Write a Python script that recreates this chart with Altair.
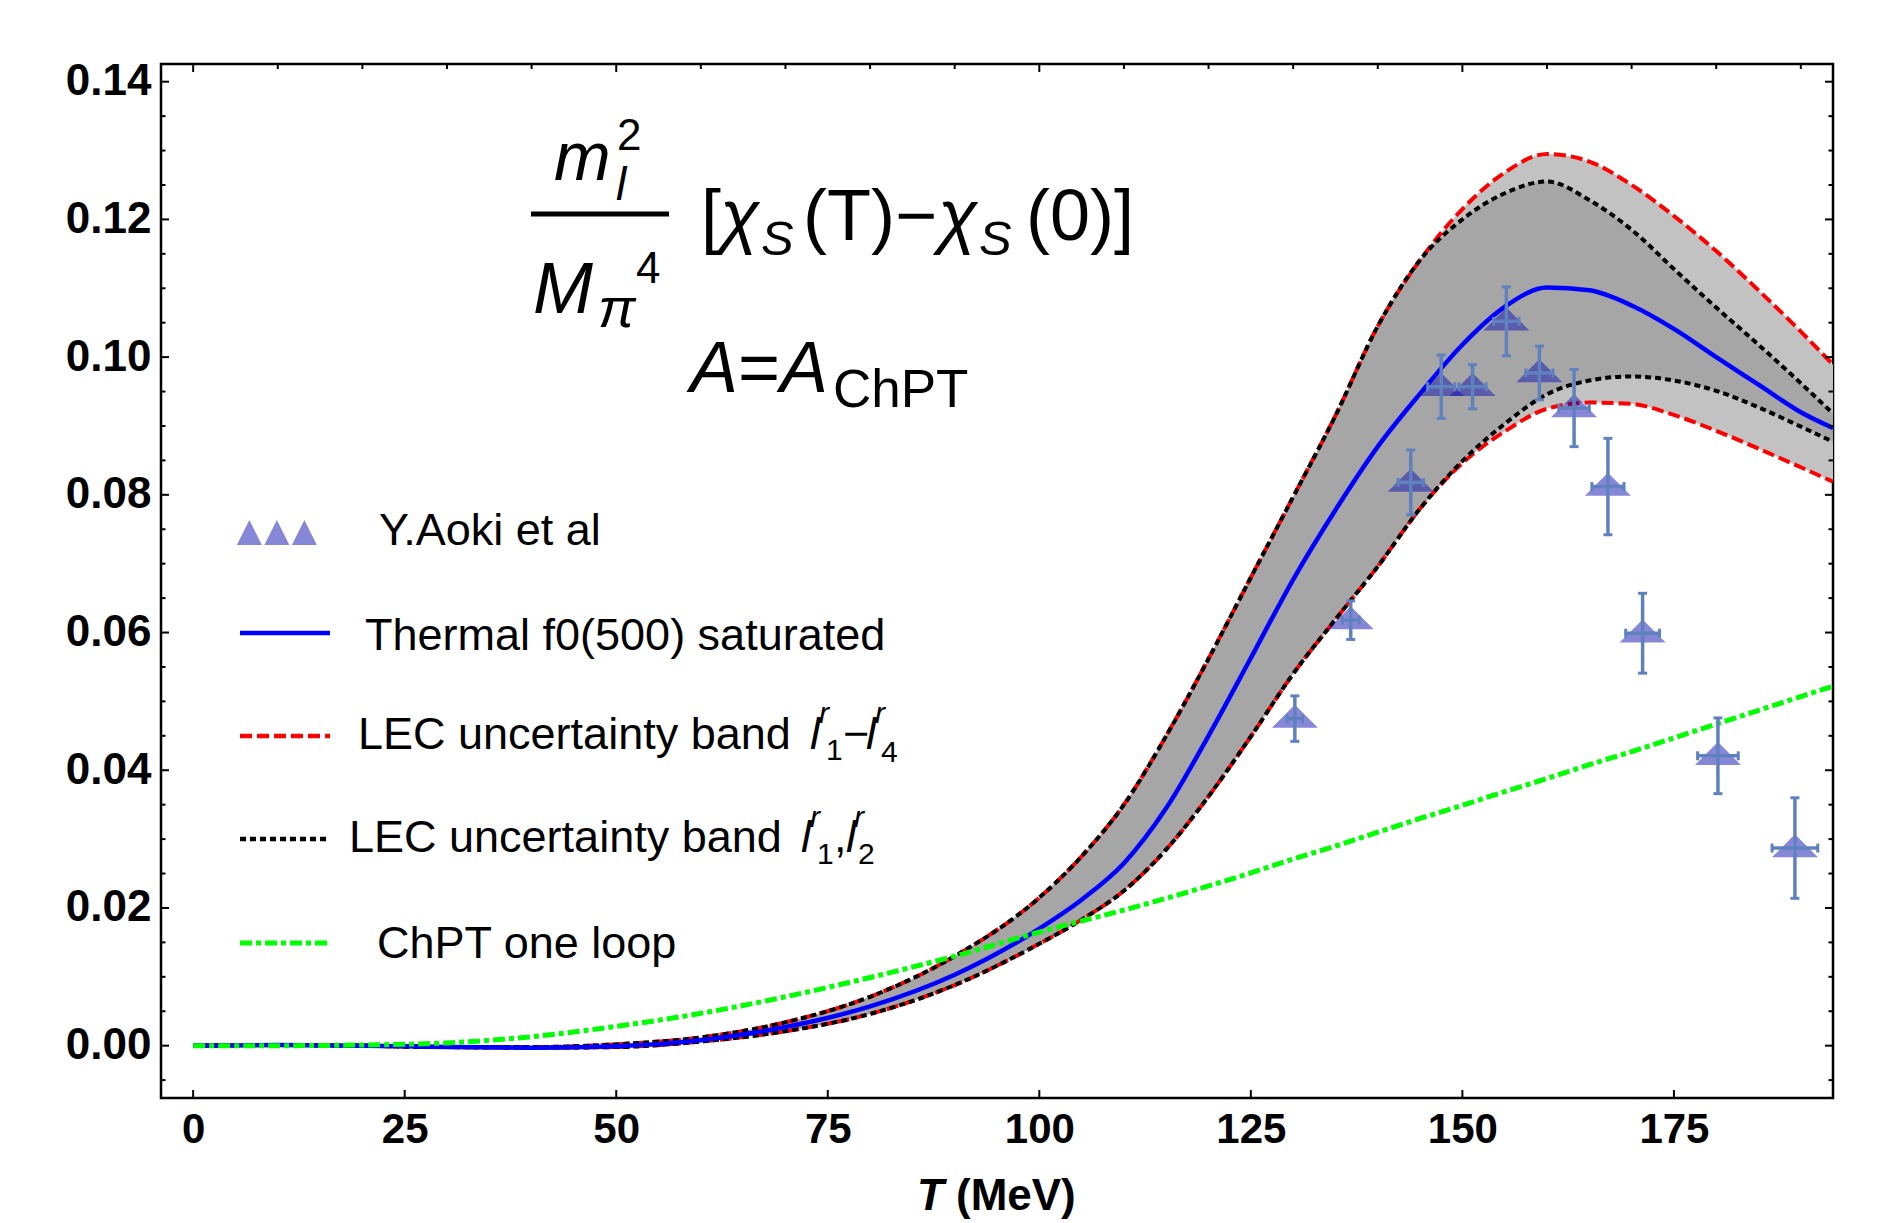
import altair as alt
import pandas as pd

FONT = "Liberation Sans"

# ---------------------------------------------------------------- data
# temperature grid (MeV) shared by all curves
T = [0, 10, 20, 30, 40, 50, 60, 70, 80, 90, 100, 105, 110, 115, 120, 125, 130,
     135, 140, 145, 150, 155, 160, 165, 170, 175, 180, 185, 190, 193.8]

thermal = [0.0, 0.0001, 0.0, -0.0002, -0.0003, -0.0001, 0.0008, 0.0027, 0.0057, 0.0103,
           0.0170, 0.0212, 0.0265, 0.0345, 0.0450, 0.0563, 0.0677, 0.0778, 0.0870, 0.0947,
           0.1018, 0.1073, 0.1101, 0.1097, 0.1075, 0.1041, 0.1000, 0.0960, 0.0920, 0.0897]

red_upper = [0.0, 0.0001, 0.0, -0.0002, -0.0002, 0.0002, 0.0012, 0.0034, 0.0071, 0.0130,
             0.0215, 0.0275, 0.0350, 0.0450, 0.0562, 0.0680, 0.0797, 0.0915, 0.1045, 0.1141,
             0.1215, 0.1268, 0.1295, 0.1284, 0.1250, 0.1205, 0.1154, 0.1097, 0.1037, 0.0989]
red_lower = [0.0, 0.0001, 0.0, -0.0002, -0.0003, -0.0002, 0.0006, 0.0021, 0.0046, 0.0088,
             0.0148, 0.0183, 0.0225, 0.0285, 0.0362, 0.0449, 0.0540, 0.0619, 0.0696, 0.0780,
             0.0846, 0.0892, 0.0925, 0.0934, 0.0932, 0.0916, 0.0893, 0.0867, 0.0840, 0.0819]

black_upper = [0.0, 0.0001, 0.0, -0.0002, -0.0002, 0.0002, 0.0012, 0.0034, 0.0071, 0.0130,
               0.0215, 0.0275, 0.0350, 0.0450, 0.0562, 0.0680, 0.0797, 0.0915, 0.1045, 0.1141,
               0.1200, 0.1238, 0.1255, 0.1228, 0.1185, 0.1128, 0.1072, 0.1018, 0.0962, 0.0918]
black_lower = [0.0, 0.0001, 0.0, -0.0002, -0.0003, -0.0002, 0.0006, 0.0021, 0.0046, 0.0088,
               0.0148, 0.0183, 0.0225, 0.0285, 0.0362, 0.0449, 0.0540, 0.0619, 0.0696, 0.0780,
               0.0849, 0.0903, 0.0946, 0.0966, 0.0972, 0.0966, 0.0951, 0.0927, 0.0899, 0.0877]

chpt_one_loop = [0.0, 0.0, 0.0001, 0.0004, 0.0013, 0.0028, 0.0047, 0.0071, 0.0099, 0.0130,
                 0.0165, 0.0181, 0.0197, 0.0214, 0.0232, 0.0251, 0.0271, 0.0290, 0.0310, 0.0330,
                 0.0349, 0.0369, 0.0388, 0.0408, 0.0427, 0.0447, 0.0467, 0.0487, 0.0507, 0.0522]

# lattice points (Y. Aoki et al): temperature, value, vertical and horizontal half-errors
aoki_T = [130.2, 136.8, 143.9, 147.5, 151.2, 155.2, 159.1, 163.2, 167.2, 171.3, 180.2, 189.3]
aoki_v = [0.0475, 0.0618, 0.0818, 0.0957, 0.0957, 0.1052, 0.0977, 0.0926, 0.0812, 0.0599,
          0.0421, 0.0287]
aoki_dv = [0.0033, 0.0028, 0.0047, 0.0046, 0.0032, 0.0050, 0.0039, 0.0056, 0.0070, 0.0058,
           0.0055, 0.0073]
aoki_dT = [0.9, 1.0, 1.5, 1.6, 1.6, 1.5, 1.6, 1.8, 1.9, 2.0, 2.4, 2.7]

x_tick_labels = [0, 25, 50, 75, 100, 125, 150, 175]
y_tick_labels = [0.0, 0.02, 0.04, 0.06, 0.08, 0.10, 0.12, 0.14]
y_minor = [-0.005, 0.005, 0.01, 0.015, 0.025, 0.03, 0.035, 0.045, 0.05, 0.055, 0.065, 0.07,
           0.075, 0.085, 0.09, 0.095, 0.105, 0.11, 0.115, 0.125, 0.13, 0.135]
top_major = [0, 50, 100, 150]
top_minor = [10, 20, 30, 40, 60, 70, 80, 90, 110, 120, 130, 140, 160, 170, 180, 190]

# ---------------------------------------------------------------- layout
W, H = 1672, 1034          # plot area
X0, Y0 = 161, 64           # plot-area origin on the page
X_DOMAIN = [-3.8, 193.8]
Y_DOMAIN = [-0.0076, 0.14257]

x_scale = alt.Scale(domain=X_DOMAIN, nice=False, zero=False)
y_scale = alt.Scale(domain=Y_DOMAIN, nice=False, zero=False)
x_axis = alt.Axis(values=x_tick_labels, labelFont=FONT, labelFontWeight="bold",
                  labelFontSize=42, labelPadding=11, labelColor="black", ticks=False,
                  domain=False, grid=False, title=None, labelFlush=False, labelOverlap=False)
y_axis = alt.Axis(values=y_tick_labels, format=".2f", labelFont=FONT, labelFontWeight="bold",
                  labelFontSize=44, labelPadding=10, labelColor="black", ticks=False,
                  domain=False, grid=False, title=None, labelFlush=False, labelOverlap=False)


def X(field):
    return alt.X(field, type="quantitative", scale=x_scale, axis=x_axis)


def Y(field):
    return alt.Y(field, type="quantitative", scale=y_scale, axis=y_axis)


ONE = pd.DataFrame({"k": [0]})


def curve(values, color, width, dash=None):
    props = dict(color=color, strokeWidth=width, interpolate="monotone", clip=True,
                 strokeCap="butt")
    if dash:
        props["strokeDash"] = dash
    return alt.Chart(pd.DataFrame({"T": T, "v": values})).mark_line(**props).encode(
        x=X("T"), y=Y("v"))


def band(lo, hi, color):
    return alt.Chart(pd.DataFrame({"T": T, "lo": lo, "hi": hi})).mark_area(
        color=color, interpolate="monotone", clip=True).encode(
        x=X("T"), y=Y("lo"), y2=alt.Y2("hi"))


def text(s, x, y, size, italic=False, bold=False):
    return alt.Chart(ONE).mark_text(
        text=s, font=FONT, fontSize=size, fontStyle="italic" if italic else "normal",
        fontWeight="bold" if bold else "normal", align="left", baseline="alphabetic",
        color="black").encode(x=alt.value(x - X0), y=alt.value(y - Y0))


def hline(x1, x2, y, color, width, dash=None):
    props = dict(color=color, strokeWidth=width, strokeCap="butt")
    if dash:
        props["strokeDash"] = dash
    return alt.Chart(ONE).mark_rule(**props).encode(
        x=alt.value(x1 - X0), x2=alt.value(x2 - X0), y=alt.value(y - Y0))


RED_DASH = [12, 5]
BLACK_DOT = [6, 4]
GREEN_DASHDOT = [12, 4, 5, 4]
MARKER_COLOR = "#1010B0"
ERR_COLOR = "#5F82BE"
TRI_FLAT = "M -1 0.4 L 1 0.4 L 0 -0.6 Z"
TRI_LEGEND = "M -1 1 L 1 1 L 0 -1 Z"

# ---------------------------------------------------------------- layers
layers = [
    band(red_lower, red_upper, "#C2C2C2"),
    band(black_lower, black_upper, "#A6A6A6"),
    curve(red_upper, "#FF0000", 4, RED_DASH),
    curve(red_lower, "#FF0000", 4, RED_DASH),
    curve(black_upper, "#000000", 4, BLACK_DOT),
    curve(black_lower, "#000000", 4, BLACK_DOT),
    curve(thermal, "#0000FF", 4.5),
    curve(chpt_one_loop, "#00FF00", 5, GREEN_DASHDOT),
]

pts = pd.DataFrame({"T": aoki_T, "v": aoki_v, "dv": aoki_dv, "dT": aoki_dT})
pts["vlo"] = pts["v"] - pts["dv"]
pts["vhi"] = pts["v"] + pts["dv"]
pts["Tlo"] = pts["T"] - pts["dT"]
pts["Thi"] = pts["T"] + pts["dT"]

base = alt.Chart(pts)
layers += [
    base.mark_point(shape=TRI_FLAT, size=2116, filled=True, color=MARKER_COLOR,
                    opacity=0.5, strokeWidth=0).encode(x=X("T"), y=Y("v")),
    base.mark_rule(color=ERR_COLOR, strokeWidth=3.5).encode(
        x=X("T"), y=Y("vlo"), y2=alt.Y2("vhi")),
    base.mark_rule(color=ERR_COLOR, strokeWidth=3.5).encode(
        x=X("Tlo"), x2=alt.X2("Thi"), y=Y("v")),
]
for fld in ["vlo", "vhi"]:
    layers.append(base.mark_rule(color=ERR_COLOR, strokeWidth=3, xOffset=-4.5,
                                 x2Offset=4.5).encode(x=X("T"), x2=alt.X2("T"), y=Y(fld)))
for fld in ["Tlo", "Thi"]:
    layers.append(base.mark_rule(color=ERR_COLOR, strokeWidth=3, yOffset=-4.5,
                                 y2Offset=4.5).encode(x=X(fld), y=Y("v"), y2=alt.Y2("v")))


# inward frame ticks
def yticks(vals, length):
    c = alt.Chart(pd.DataFrame({"v": vals}))
    return [
        c.mark_rule(color="black", strokeWidth=2).encode(
            y=Y("v"), x=alt.value(0), x2=alt.value(length)),
        c.mark_rule(color="black", strokeWidth=2).encode(
            y=Y("v"), x=alt.value(W), x2=alt.value(W - length)),
    ]


def xticks(vals, length, top):
    c = alt.Chart(pd.DataFrame({"t": vals}))
    y1 = 0 if top else H
    y2 = length if top else H - length
    return [c.mark_rule(color="black", strokeWidth=2).encode(
        x=X("t"), y=alt.value(y1), y2=alt.value(y2))]


layers += yticks(y_tick_labels, 8) + yticks(y_minor, 4.5)
layers += xticks(x_tick_labels, 8, False)
layers += xticks(top_major, 8, True) + xticks(top_minor, 5, True)

# x-axis title
layers += [text("T", 917, 1210, 44, italic=True, bold=True),
           text("(MeV)", 956, 1210, 44, bold=True)]

# formula annotation
layers += [
    text("m", 554, 180, 68, italic=True),
    text("l", 616, 200, 46, italic=True),
    text("2", 617, 150, 44),
    alt.Chart(ONE).mark_rule(color="black", strokeWidth=5).encode(
        x=alt.value(531 - X0), x2=alt.value(669 - X0), y=alt.value(214 - Y0)),
    text("M", 533, 313, 72, italic=True),
    text("π", 598, 327, 56, italic=True),
    text("4", 636, 283, 44),
    text("[", 701, 240, 72),
    text("χ", 720, 240, 72, italic=True),
    text("S", 761, 255, 49, italic=True),
    text("(T)−", 803, 240, 72),
    text("χ", 938, 240, 72, italic=True),
    text("S", 979, 255, 49, italic=True),
    text("(0)]", 1026, 240, 72),
    text("A", 690, 392, 72, italic=True),
    text("=", 738, 392, 72),
    text("A", 780, 392, 72, italic=True),
    text("ChPT", 833, 407, 53),
]

# legend
for cx in [249.4, 276.9, 304.4]:
    layers.append(alt.Chart(ONE).mark_point(
        shape=TRI_LEGEND, size=625, filled=True, color=MARKER_COLOR, opacity=0.5,
        strokeWidth=0).encode(x=alt.value(cx - X0), y=alt.value(532.5 - Y0)))
layers += [
    text("Y.Aoki et al", 379, 545, 45),
    hline(240, 330, 633, "#0000FF", 4.5),
    text("Thermal f0(500) saturated", 365, 650, 45),
    hline(240, 330, 736, "#FF0000", 4.5, RED_DASH),
    text("LEC uncertainty band", 358, 749, 45),
    text("l", 810, 749, 45, italic=True),
    text("r", 819, 723, 30, italic=True),
    text("1", 826, 760, 30),
    text("−", 843, 749, 45),
    text("l", 866, 749, 45, italic=True),
    text("r", 875, 723, 30, italic=True),
    text("4", 881, 762, 30),
    hline(240, 330, 839, "#000000", 4.5, BLACK_DOT),
    text("LEC uncertainty band", 349, 852, 45),
    text("l", 801, 852, 45, italic=True),
    text("r", 810, 827, 30, italic=True),
    text("1", 817, 864, 30),
    text(",", 834, 852, 45),
    text("l", 846, 852, 45, italic=True),
    text("r", 854, 827, 30, italic=True),
    text("2", 858, 864, 30),
    hline(240, 330, 943, "#00FF00", 5, GREEN_DASHDOT),
    text("ChPT one loop", 377, 958, 45),
]

chart = alt.layer(*layers).properties(
    width=W, height=H,
    autosize=alt.AutoSizeParams(type="none"),
    padding={"left": X0, "top": Y0, "right": 1900 - X0 - W, "bottom": 1223 - Y0 - H},
    background="white",
).configure_view(stroke="black", strokeWidth=2.5)

chart.save("out.html", embed_options={"renderer": "svg", "actions": False})
